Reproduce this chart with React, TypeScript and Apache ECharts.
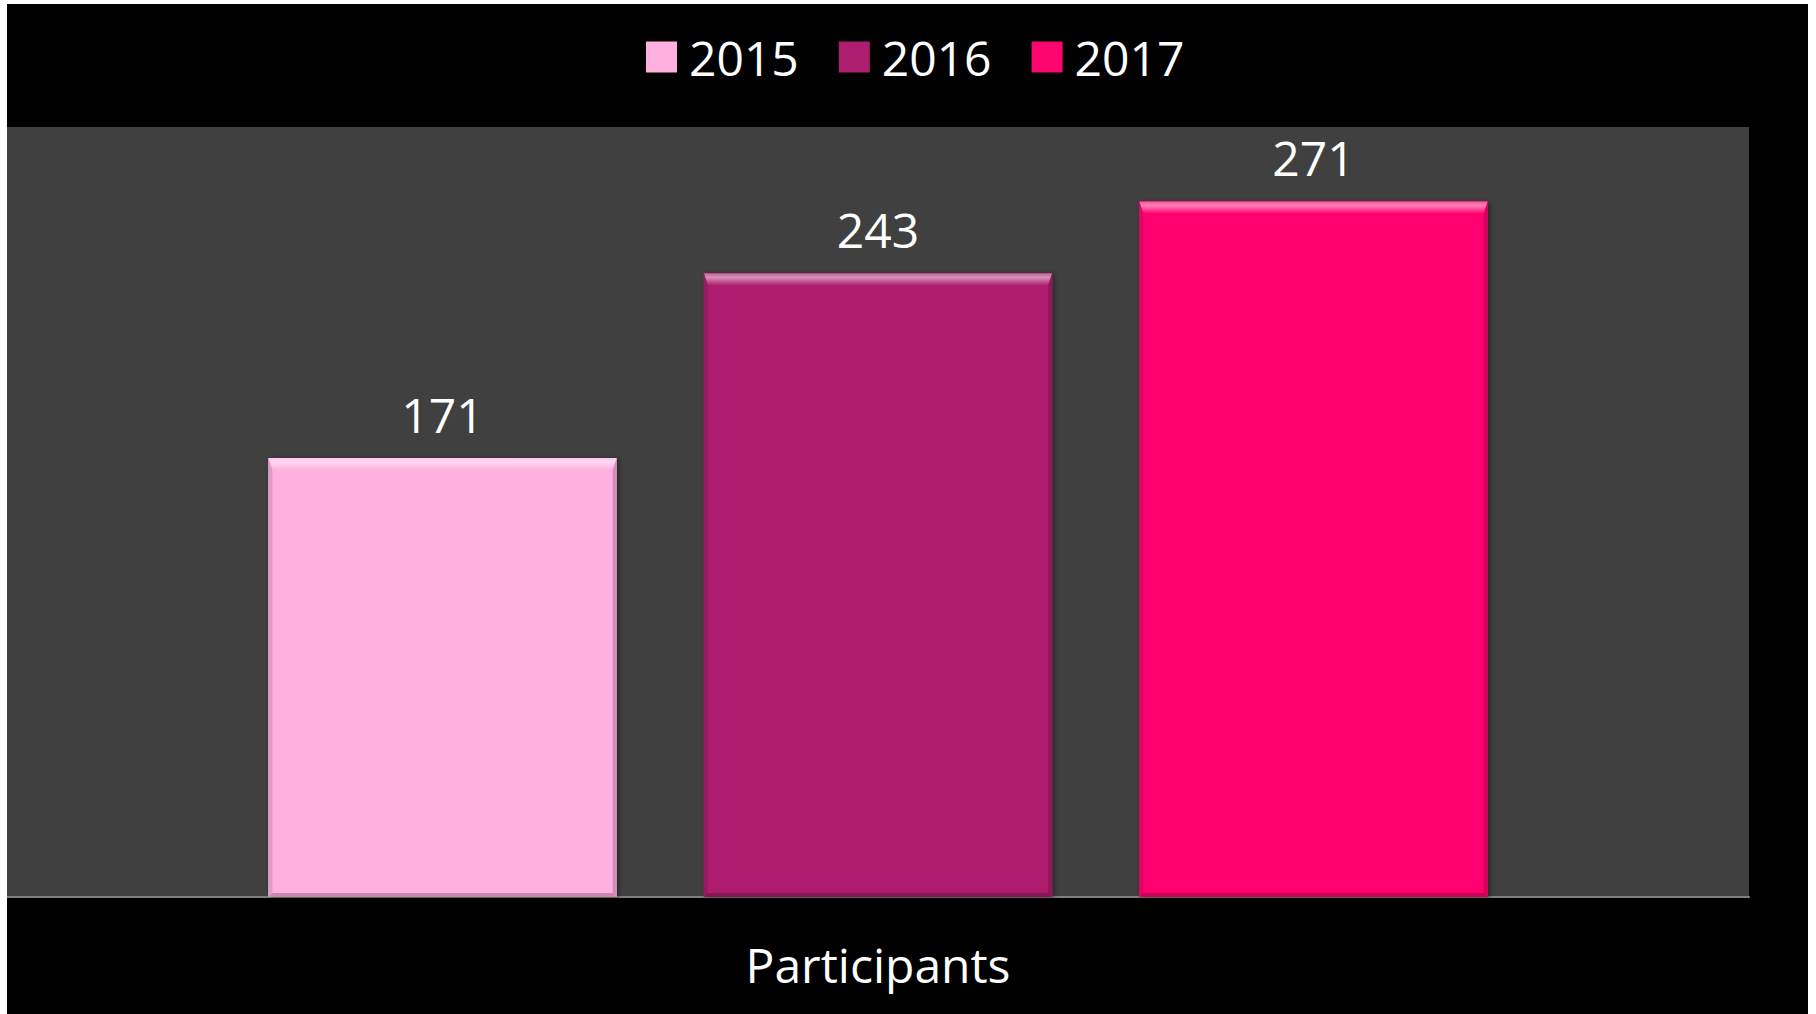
import React, { useEffect, useRef } from "react";
import * as echarts from "echarts";

const categories = ["Participants"];
const seriesNames = ["2015", "2016", "2017"];
const values2015 = [171];
const values2016 = [243];
const values2017 = [271];
const seriesValues = [values2015, values2016, values2017];
const colors = ["#FFB0DF", "#AD1F6E", "#FF0570"];

function mix(hex: string, target: number, t: number) {
  const h = hex.replace("#", "");
  const r = parseInt(h.slice(0, 2), 16);
  const g = parseInt(h.slice(2, 4), 16);
  const b = parseInt(h.slice(4, 6), 16);
  const m = (c: number) => Math.round(c + (target - c) * t);
  return `rgb(${m(r)},${m(g)},${m(b)})`;
}

const FONT = '"Open Sans", "Noto Sans", sans-serif';

export default function App() {
  const ref = useRef<HTMLDivElement>(null);
  useEffect(() => {
    if (!ref.current) return;
    const chart = echarts.init(ref.current, undefined, { renderer: "svg" });
    const n = seriesNames.length;
    const renderItem = (params: any, api: any) => {
      const cat = api.value(0);
      const v = api.value(1);
      const base = api.coord([cat, 0]);
      const top = api.coord([cat, v]);
      const band = api.size([1, 0])[0];
      const bw = band * 0.2;
      const gap = bw * 0.25;
      const off = (params.seriesIndex - (n - 1) / 2) * (bw + gap);
      const x0 = base[0] + off - bw / 2;
      const x1 = x0 + bw;
      const y0 = top[1];
      const y1 = base[1];
      const c = colors[params.seriesIndex];
      const b = 12;
      const s = 4;
      return {
        type: "group",
        children: [
          {
            type: "rect",
            shape: { x: x0, y: y0, width: bw, height: y1 - y0 },
            style: {
              fill: c,
              shadowColor: "rgba(0,0,0,0.45)",
              shadowBlur: 5,
              shadowOffsetX: 2,
              shadowOffsetY: 1,
            },
          },
          {
            type: "polygon",
            shape: { points: [[x0, y0], [x1, y0], [x1 - s, y0 + b], [x0 + s, y0 + b]] },
            style: {
              fill: new echarts.graphic.LinearGradient(0, 0, 0, 1, [
                { offset: 0, color: mix(c, 255, 0.3) },
                { offset: 0.35, color: mix(c, 255, 0.5) },
                { offset: 1, color: c },
              ]),
            },
          },
          {
            type: "polygon",
            shape: { points: [[x0, y0], [x0 + s, y0 + b], [x0 + s, y1 - s], [x0, y1]] },
            style: { fill: mix(c, 0, 0.12) },
          },
          {
            type: "polygon",
            shape: { points: [[x1, y0], [x1 - s, y0 + b], [x1 - s, y1 - s], [x1, y1]] },
            style: { fill: mix(c, 0, 0.18) },
          },
          {
            type: "polygon",
            shape: { points: [[x0, y1], [x0 + s, y1 - s], [x1 - s, y1 - s], [x1, y1]] },
            style: { fill: mix(c, 0, 0.22) },
          },
          {
            type: "text",
            x: (x0 + x1) / 2,
            y: y0 - 44,
            style: {
              text: String(v),
              fill: "#ffffff",
              fontSize: 48,
              fontFamily: FONT,
              align: "center",
              verticalAlign: "middle",
            },
          },
        ],
      };
    };
    chart.setOption({
      animation: false,
      backgroundColor: "#000000",
      legend: {
        data: seriesNames.map((name) => ({ name, icon: "rect" })),
        left: 634,
        top: 24,
        itemWidth: 31,
        itemHeight: 31,
        itemGap: 40,
        textStyle: {
          color: "#ffffff",
          fontSize: 48,
          fontFamily: FONT,
          padding: [0, 0, 0, 7],
        },
      },
      grid: {
        left: 0,
        right: 59,
        top: 123,
        bottom: 117,
        show: true,
        backgroundColor: "#404040",
        borderWidth: 0,
      },
      xAxis: {
        type: "category",
        data: categories,
        axisLine: { lineStyle: { color: "#808080", width: 2 } },
        axisTick: { show: false },
        axisLabel: { color: "#ffffff", fontSize: 48, fontFamily: FONT, margin: 43 },
      },
      yAxis: { type: "value", min: 0, max: 300, show: false },
      series: seriesNames.map((name, i) => ({
        name,
        type: "custom",
        renderItem,
        itemStyle: { color: colors[i] },
        data: categories.map((_, ci) => [ci, seriesValues[i][ci]]),
      })),
    });
    return () => chart.dispose();
  }, []);
  return (
    <div
      ref={ref}
      style={{ position: "absolute", left: 7, top: 4, width: 1801, height: 1010 }}
    />
  );
}
